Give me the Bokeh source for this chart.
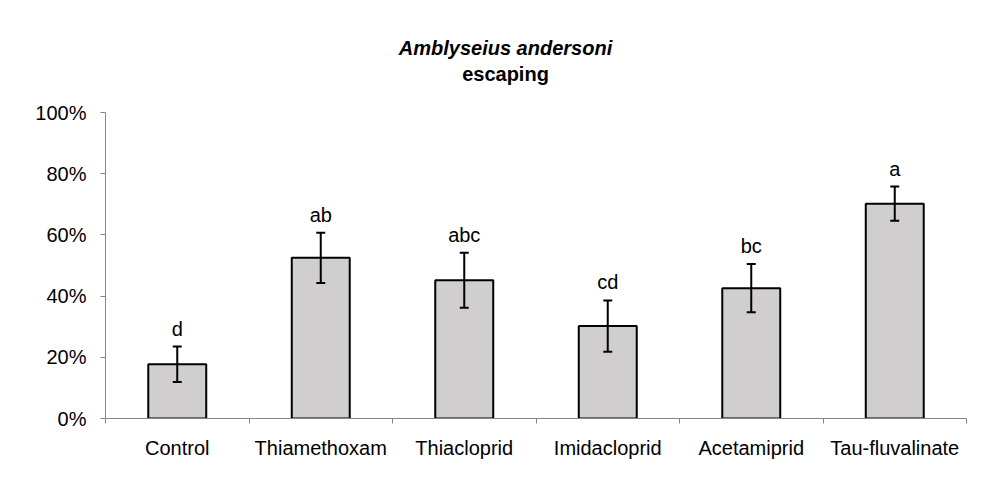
from bokeh.plotting import figure
from bokeh.models import (Range1d, FixedTicker, NumeralTickFormatter, Label,
                          ColumnDataSource, Whisker, TeeHead)
from bokeh.core.properties import value
from bokeh.embed import file_html
from bokeh.resources import INLINE

# ---- data ----
categories = ["Control", "Thiamethoxam", "Thiacloprid", "Imidacloprid",
              "Acetamiprid", "Tau-fluvalinate"]
escaping = [0.177, 0.525, 0.452, 0.302, 0.426, 0.702]
std_err = [0.058, 0.082, 0.090, 0.084, 0.079, 0.056]
letters = ["d", "ab", "abc", "cd", "bc", "a"]
y_ticks = [0.0, 0.2, 0.4, 0.6, 0.8, 1.0]
title_species = "Amblyseius andersoni"
title_metric = "escaping"

FONT = "Liberation Sans"
GRAY = "#868686"

# layout (pixels)
PLOT_H = 306          # height of the 0-100% span
TOP_ROOM = 92         # room above 100% for the title, kept inside the frame

xpos = [i + 0.5 for i in range(len(categories))]
src = ColumnDataSource(dict(
    x=xpos,
    top=escaping,
    lower=[v - e for v, e in zip(escaping, std_err)],
    upper=[v + e for v, e in zip(escaping, std_err)],
    letter=letters,
))

p = figure(width=975, height=473,
           x_range=Range1d(0, len(categories)),
           y_range=Range1d(0, (PLOT_H + TOP_ROOM) / PLOT_H),
           output_backend="svg", toolbar_location=None,
           min_border_left=96, min_border_right=18,
           min_border_top=11, min_border_bottom=64)
p.outline_line_color = None
p.xgrid.visible = False
p.ygrid.visible = False
p.background_fill_color = "white"
p.border_fill_color = "white"
p.styles = {"margin-left": "9px", "margin-top": "9px"}

# bars
p.vbar(x="x", top="top", bottom=0, width=0.404, source=src,
       fill_color="#D0CECE", line_color="black", line_width=2)

# error bars
whisk = Whisker(base="x", lower="lower", upper="upper", source=src,
                line_color="black", line_width=2, level="overlay",
                upper_head=TeeHead(size=9, line_color="black", line_width=2),
                lower_head=TeeHead(size=9, line_color="black", line_width=2))
p.add_layout(whisk)

# significance letters
p.text(x="x", y="upper", text="letter", source=src,
       text_align="center", text_baseline="alphabetic", y_offset=-18,
       text_font=value(FONT), text_font_size="20px", text_color="black")

# two-line title (screen units from frame bottom-left)
p.add_layout(Label(x=400, y=371, x_units="screen", y_units="screen",
                   text=title_species, text_align="center",
                   text_baseline="alphabetic", text_font=FONT,
                   text_font_style="bold italic", text_font_size="20px",
                   text_color="black"))
p.add_layout(Label(x=400, y=345, x_units="screen", y_units="screen",
                   text=title_metric, text_align="center",
                   text_baseline="alphabetic", text_font=FONT,
                   text_font_style="bold", text_font_size="20px",
                   text_color="black"))

# x axis
xa = p.xaxis[0]
xa.ticker = FixedTicker(ticks=xpos, minor_ticks=list(range(len(categories) + 1)))
xa.major_label_overrides = {x: c for x, c in zip(xpos, categories)}
xa.major_tick_out = 0
xa.major_tick_in = 0
xa.minor_tick_out = 5
xa.minor_tick_in = 0
xa.minor_tick_line_color = GRAY
xa.axis_line_color = GRAY
xa.major_label_text_font = FONT
xa.major_label_text_font_size = "20px"
xa.major_label_text_color = "black"
xa.major_label_standoff = 13

# y axis
ya = p.yaxis[0]
ya.bounds = (0, 1)
ya.ticker = FixedTicker(ticks=y_ticks, minor_ticks=[])
ya.formatter = NumeralTickFormatter(format="0%")
ya.major_tick_out = 5
ya.major_tick_in = 0
ya.major_tick_line_color = GRAY
ya.axis_line_color = GRAY
ya.major_label_text_font = FONT
ya.major_label_text_font_size = "20px"
ya.major_label_text_color = "black"
ya.major_label_standoff = 14

open("out.html", "w").write(file_html(p, INLINE))
